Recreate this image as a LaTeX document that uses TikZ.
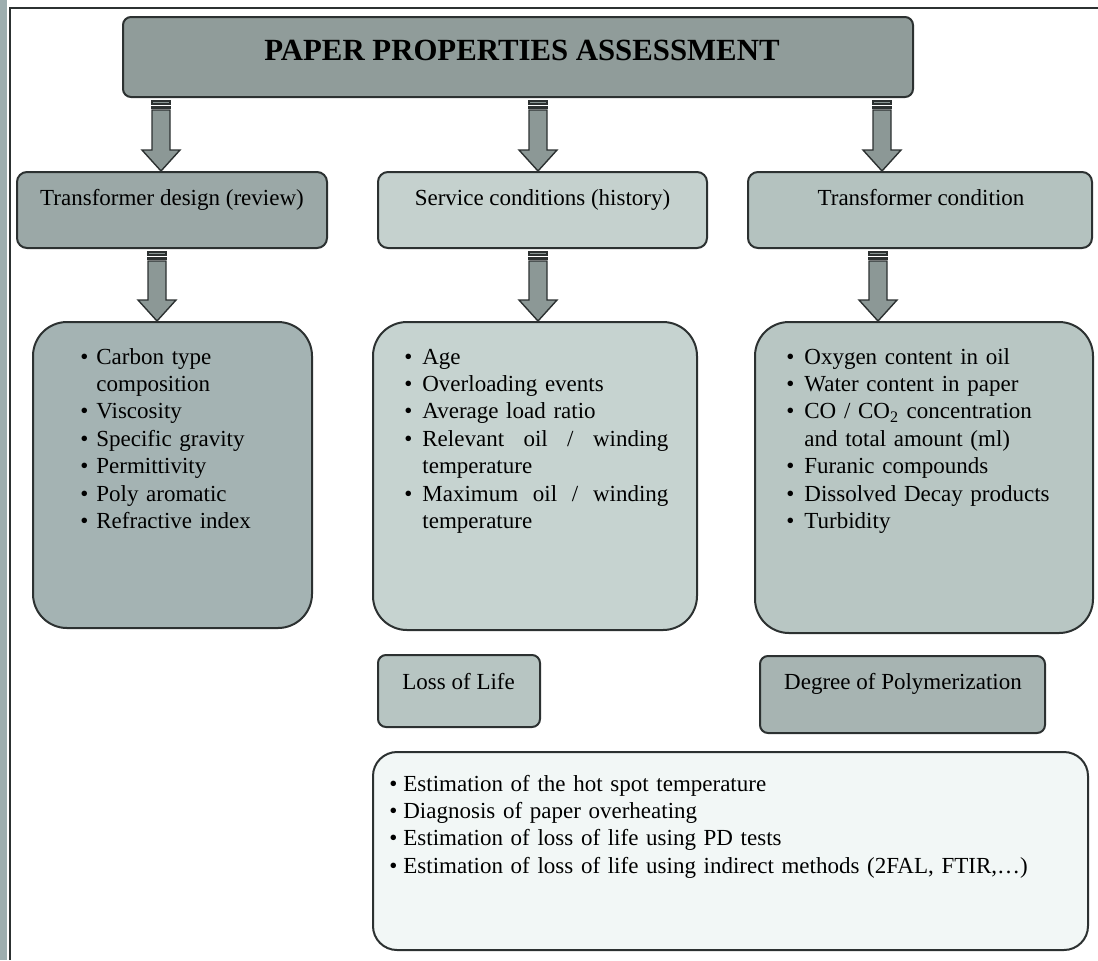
\documentclass[tikz,border=0pt]{standalone}
\usepackage{fontspec}
\setmainfont{Liberation Serif}
\usetikzlibrary{calc}

\definecolor{edge}{HTML}{2C3131}
\definecolor{sidebar}{HTML}{9DAEAF}
\definecolor{titlefill}{HTML}{909C9A}
\definecolor{designfill}{HTML}{9BA8A7}
\definecolor{servicefill}{HTML}{C5D1CE}
\definecolor{condfill}{HTML}{B4C2BF}
\definecolor{listone}{HTML}{A4B3B3}
\definecolor{listtwo}{HTML}{C6D3D0}
\definecolor{listthree}{HTML}{B8C6C3}
\definecolor{lossfill}{HTML}{B7C5C2}
\definecolor{dpfill}{HTML}{A7B4B2}
\definecolor{methodfill}{HTML}{F2F7F6}
\definecolor{arrowfill}{HTML}{8C9896}

\tikzset{
  panel/.style={draw=edge, line width=1pt, inner sep=0pt},
  headbox/.style={panel, fill=titlefill, rounded corners=4pt},
  catbox/.style={panel, rounded corners=5pt, minimum height=38pt},
  listbox/.style={panel, rounded corners=17pt},
  smallbox/.style={panel, rounded corners=4pt},
  txt/.style={inner sep=0pt, font=\fontsize{11.5}{13.7}\selectfont},
  listtxt/.style={txt, anchor=base west, align=left},
  arrowbody/.style={draw=edge, line width=0.7pt, fill=arrowfill, line join=miter},
}

% bullet followed by its text, the text starting #1 after the bullet
\newcommand\bul[2]{\makebox[#1][l]{\textbullet}#2}
% a line spread to the full justified width
\newcommand\spreadline[1]{\hbox to 123pt{#1}}

% striped block arrow at x-position #1, from the foot of node #2 to the top of node #3
\newcommand\stripedarrow[3]{%
  \path (#2.south -| #1) coordinate (#1t) (#3.north -| #1) coordinate (#1b);
  \draw[arrowbody] ($(#1t)+(-9,3)$) rectangle ($(#1t)+(9,6)$);
  \draw[arrowbody] ($(#1t)+(-9,8.5)$) rectangle ($(#1t)+(9,10)$);
  \draw[arrowbody] ($(#1t)+(-9,12)$) -- ($(#1t)+(9,12)$) -- ($(#1b)+(9,-21)$)
    -- ($(#1b)+(19,-21)$) -- (#1b) -- ($(#1b)+(-19,-21)$) -- ($(#1b)+(-9,-21)$) -- cycle;
}

\begin{document}
\begin{tikzpicture}[x=0.5pt, y=-0.5pt]
\useasboundingbox (0,0) rectangle (1098,960);

% page frame
\fill[sidebar] (0,0) rectangle (7,960);
\draw[edge, line width=1pt] (10,960) -- (10,8) -- (1098,8);

% heading
\node[headbox, minimum width=395pt, minimum height=40pt] (head) at (518,57) {};
\node[inner sep=0pt, anchor=base, font=\fontsize{15.4}{18}\selectfont\bfseries] (headtxt) at (522,60) {PAPER PROPERTIES ASSESSMENT};

% three categories
\node[catbox, fill=designfill, minimum width=155pt] (design) at (172,210) {};
\node[catbox, fill=servicefill, minimum width=164.5pt] (service) at (542.5,210) {};
\node[catbox, fill=condfill, minimum width=172pt] (cond) at (920,210) {};
\node[txt, anchor=base] (designtxt) at (172,205) {Transformer design (review)};
\node[txt, anchor=base] (servicetxt) at (542.5,205) {Service conditions (history)};
\node[txt, anchor=base] (condtxt) at (921,205) {Transformer condition};

% property lists
\node[listbox, fill=listone, minimum width=139.5pt, minimum height=153pt] (props) at (172.5,475) {};
\node[listbox, fill=listtwo, minimum width=162pt, minimum height=154pt] (history) at (535,476) {};
\node[listbox, fill=listthree, minimum width=169pt, minimum height=155.5pt] (state) at (924,477.5) {};

\node[listtxt, text width=125pt] (propstxt) at (80,364) {%
  \bul{8pt}{Carbon type}\\
  \hspace*{8pt}composition\\
  \bul{8pt}{Viscosity}\\
  \bul{8pt}{Specific gravity}\\
  \bul{8pt}{Permittivity}\\
  \bul{8pt}{Poly aromatic}\\
  \bul{8pt}{Refractive index}};

\node[listtxt, text width=140pt] (historytxt) at (404,364) {%
  \bul{9pt}{Age}\\
  \bul{9pt}{Overloading events}\\
  \bul{9pt}{Average load ratio}\\
  \bul{9pt}{\spreadline{Relevant\hfill oil\hfill /\hfill winding}}\\
  \hspace*{9pt}temperature\\
  \bul{9pt}{\spreadline{Maximum\hfill oil\hfill /\hfill winding}}\\
  \hspace*{9pt}temperature};

\node[listtxt, text width=150pt] (statetxt) at (786,364) {%
  \bul{9pt}{Oxygen content in oil}\\
  \bul{9pt}{Water content in paper}\\
  \bul{9pt}{CO / CO\textsubscript{2} concentration}\\
  \hspace*{9pt}and total amount (ml)\\
  \bul{9pt}{Furanic compounds}\\
  \bul{9pt}{Dissolved Decay products}\\
  \bul{9pt}{Turbidity}};

% outcomes
\node[smallbox, fill=lossfill, minimum width=81pt, minimum height=36pt] (loss) at (459,691) {};
\node[txt, anchor=base west] (losstxt) at (402,689) {Loss of Life};
\node[smallbox, fill=dpfill, minimum width=142.5pt, minimum height=38.5pt] (dp) at (902.5,694.5) {};
\node[txt, anchor=base] (dptxt) at (903,689) {Degree of Polymerization};

% methods
\node[panel, fill=methodfill, rounded corners=12pt, minimum width=357.5pt, minimum height=99pt] (methods) at (730.5,851) {};
\node[listtxt, text width=340pt] (methodstxt) at (389,791) {%
  \bul{7pt}{Estimation of the hot spot temperature}\\
  \bul{7pt}{Diagnosis of paper overheating}\\
  \bul{7pt}{Estimation of loss of life using PD tests}\\
  \bul{7pt}{Estimation of loss of life using indirect methods (2FAL, FTIR,\dots)}};

% arrows
\coordinate (a1) at (161,0);
\coordinate (a2) at (538,0);
\coordinate (a3) at (882,0);
\coordinate (a4) at (157,0);
\coordinate (a5) at (538,0);
\coordinate (a6) at (878,0);
\stripedarrow{a1}{head}{design}
\stripedarrow{a2}{head}{service}
\stripedarrow{a3}{head}{cond}
\stripedarrow{a4}{design}{props}
\stripedarrow{a5}{service}{history}
\stripedarrow{a6}{cond}{state}
\end{tikzpicture}
\end{document}
